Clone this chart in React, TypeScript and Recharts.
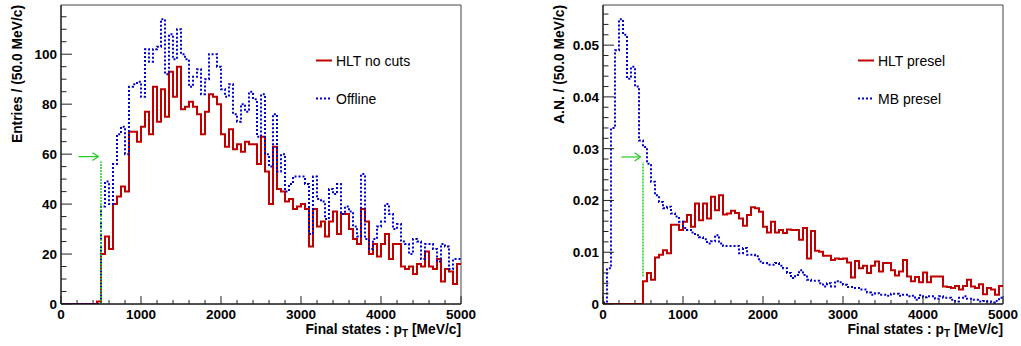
import React from "react";
import { LineChart, Line, XAxis, YAxis, ReferenceLine, ReferenceArea } from "recharts";

// bin lower edges: 100 bins of 50 MeV/c from 0 to 5000
const BIN_WIDTH = 50;

// left pad: raw entries
const hltNoCuts = [
  0, 0, 0, 0, 0, 0, 0, 0, 0, 1,
  20, 27, 22, 40, 43, 47, 45, 69, 69, 65,
  71, 77, 68, 87, 73, 86, 75, 93, 83, 95,
  78, 79, 81, 79, 76, 68, 77, 84, 83, 80,
  68, 63, 70, 62, 64, 61, 65, 64, 64, 56,
  67, 53, 40, 63, 46, 45, 41, 42, 38, 39,
  40, 38, 23, 38, 31, 33, 27, 33, 37, 28,
  36, 36, 30, 26, 24, 38, 33, 20, 24, 19,
  24, 28, 18, 24, 24, 15, 14, 15, 12, 16,
  15, 21, 15, 14, 18, 9, 14, 13, 8, 16,
];

const offline = [
  0, 0, 0, 0, 0, 0, 0, 0, 0, 0,
  39, 49, 40, 56, 68, 71, 60, 87, 88, 89,
  83, 102, 97, 102, 103, 114, 92, 108, 98, 110,
  100, 98, 87, 91, 94, 84, 90, 100, 100, 95,
  86, 83, 88, 76, 73, 80, 77, 85, 82, 67,
  84, 60, 55, 76, 53, 60, 45, 48, 51, 51,
  51, 48, 28, 51, 42, 41, 34, 46, 44, 48,
  36, 39, 37, 31, 27, 52, 26, 22, 26, 31,
  33, 40, 36, 30, 32, 25, 24, 20, 26, 25,
  18, 24, 24, 22, 17, 24, 23, 14, 18, 18,
];

// right pad: area normalised
const hltPresel = [
  0, 0, 0, 0, 0, 0, 0, 0, 0, 0,
  0.0044, 0.006, 0.0047, 0.009, 0.0095, 0.0104, 0.0098, 0.0153, 0.0153, 0.0143,
  0.0159, 0.0172, 0.0149, 0.0194, 0.0162, 0.0194, 0.0165, 0.0207, 0.0181, 0.021,
  0.0173, 0.0175, 0.018, 0.0176, 0.0165, 0.0151, 0.0172, 0.0187, 0.0185, 0.0178,
  0.0149, 0.0138, 0.0159, 0.0138, 0.0143, 0.0137, 0.0144, 0.0143, 0.0143, 0.0124,
  0.0147, 0.0088, 0.0141, 0.0103, 0.0101, 0.0093, 0.0093, 0.0085, 0.0088, 0.0087,
  0.0088, 0.008, 0.0051, 0.0083, 0.0069, 0.0074, 0.006, 0.0074, 0.0082, 0.0063,
  0.0079, 0.0079, 0.0065, 0.0055, 0.0063, 0.0085, 0.0053, 0.0044, 0.0052, 0.0042,
  0.0061, 0.0042, 0.0053, 0.0053, 0.0053, 0.0034, 0.0033, 0.0031, 0.0035, 0.0028,
  0.0035, 0.0047, 0.0034, 0.0031, 0.0038, 0.0019, 0.0031, 0.0028, 0.0018, 0.0035,
];

const mbPresel = [
  0.0003, 0.0069, 0.034, 0.049, 0.055, 0.052, 0.0435, 0.0458, 0.042, 0.0316,
  0.0303, 0.0271, 0.0236, 0.021, 0.0197, 0.0185, 0.0188, 0.0175, 0.0169, 0.0159,
  0.0147, 0.0143, 0.0138, 0.0133, 0.0129, 0.0125, 0.0117, 0.0121, 0.0133, 0.0117,
  0.0112, 0.0112, 0.0112, 0.0112, 0.0098, 0.0108, 0.0095, 0.0095, 0.0092, 0.0082,
  0.0079, 0.0076, 0.0076, 0.0079, 0.0074, 0.0069, 0.006, 0.005, 0.0056, 0.0065,
  0.0056, 0.0047, 0.0045, 0.0045, 0.004, 0.0034, 0.004, 0.0034, 0.0044, 0.0042,
  0.0037, 0.0033, 0.0033, 0.0031, 0.0028, 0.0028, 0.0022, 0.0018, 0.0021, 0.0018,
  0.0018, 0.0016, 0.002, 0.002, 0.0016, 0.0018, 0.0015, 0.0016, 0.0008, 0.0017,
  0.0013, 0.0015, 0.0015, 0.001, 0.0015, 0.0012, 0.0012, 0.0008, 0.0005, 0.0012,
  0.0015, 0.001, 0.0008, 0.0008, 0.0005, 0.0006, 0.0005, 0.0003, 0.0006, 0.0012,
];

const xTicks = Array.from({ length: 26 }, (_, i) => i * 200);
const leftYTicks = Array.from({ length: 24 }, (_, i) => i * 5);
const rightYTicks = Array.from({ length: 29 }, (_, i) => +(i * 0.002).toFixed(3));

// cut marker: threshold position, line top, arrow height and span
const CUT_PT = 500;
const leftCut = { top: 57, arrowY: 59, from: 220, to: 468 };
const rightCut = { bottom: 0.0053, top: 0.0274, arrowY: 0.0284, from: 230, to: 470 };

// step histogram rows: one point per lower edge, plus the closing edge
function toRows(a: number[], b: number[]) {
  const rows = a.map((v, i) => ({ x: i * BIN_WIDTH, a: v, b: b[i] }));
  rows.push({ x: a.length * BIN_WIDTH, a: a[a.length - 1], b: b[b.length - 1] });
  return rows;
}

const leftRows = toRows(hltNoCuts, offline);
const rightRows = toRows(hltPresel, mbPresel);

const FONT = "'Liberation Sans', Arial, Helvetica, sans-serif";
const RED = "#c00000";
const BLUE = "#0000cc";
const GREEN = "#22cc22";

function XTick(props: any) {
  const { x, y, payload } = props;
  const major = payload.value % 1000 === 0;
  return (
    <g>
      <line x1={x} x2={x} y1={y} y2={y - (major ? 8 : 4)} stroke="#222" />
      {major && (
        <text x={x} y={y + 14.5} textAnchor="middle" fontFamily={FONT} fontWeight="bold" fontSize={13.5} fill="#000">
          {payload.value}
        </text>
      )}
    </g>
  );
}

// minor step and number of minor divisions per labelled tick
function makeYTick(step: number, per: number, fmt: (v: number) => string) {
  return function YTick(props: any) {
    const { x, y, payload } = props;
    const major = Math.round(payload.value / step) % per === 0;
    return (
      <g>
        <line x1={x} x2={x + (major ? 11 : 5.5)} y1={y} y2={y} stroke="#222" />
        {major && (
          <text x={x - 4} y={y + 5} textAnchor="end" fontFamily={FONT} fontWeight="bold" fontSize={13.5} fill="#000">
            {fmt(payload.value)}
          </text>
        )}
      </g>
    );
  };
}

const LeftYTick = makeYTick(5, 4, (v) => String(v));
const RightYTick = makeYTick(0.002, 5, (v) => (v === 0 ? "0" : v.toFixed(2)));

function arrowSegments(cut: { arrowY: number; from: number; to: number }, head: number, half: number) {
  return [
    [{ x: cut.from, y: cut.arrowY }, { x: cut.to, y: cut.arrowY }],
    [{ x: cut.to - head, y: cut.arrowY + half }, { x: cut.to, y: cut.arrowY }],
    [{ x: cut.to - head, y: cut.arrowY - half }, { x: cut.to, y: cut.arrowY }],
  ];
}

interface PadProps {
  rows: { x: number; a: number; b: number }[];
  yMax: number;
  yTicks: number[];
  yTick: (p: any) => React.ReactElement;
  yAxisWidth: number;
  width: number;
  cutLine: { bottom: number; top: number };
  arrows: { x: number; y: number }[][];
}

function Pad({ rows, yMax, yTicks, yTick, yAxisWidth, width, cutLine, arrows }: PadProps) {
  return (
    <LineChart
      width={width}
      height={346}
      data={rows}
      margin={{ top: 5, right: width - yAxisWidth - 400, bottom: 0, left: 0 }}
    >
      <ReferenceArea x1={0} x2={5000} y1={0} y2={yMax} fill="none" stroke="#444" strokeWidth={1} />
      <XAxis
        dataKey="x"
        type="number"
        domain={[0, 5000]}
        ticks={xTicks}
        interval={0}
        height={42}
        tickSize={0}
        tickMargin={0}
        tickLine={false}
        tick={XTick}
        axisLine={{ stroke: "#000" }}
        allowDataOverflow
      />
      <YAxis
        type="number"
        domain={[0, yMax]}
        ticks={yTicks}
        interval={0}
        width={yAxisWidth}
        tickSize={0}
        tickMargin={0}
        tickLine={false}
        tick={yTick}
        axisLine={{ stroke: "#000" }}
        allowDataOverflow
      />
      <Line type="stepAfter" dataKey="a" stroke={RED} strokeWidth={2} dot={false} isAnimationActive={false} />
      <Line
        type="stepAfter"
        dataKey="b"
        stroke={BLUE}
        strokeWidth={2}
        strokeDasharray="2 2"
        dot={false}
        isAnimationActive={false}
      />
      <ReferenceLine
        segment={[{ x: CUT_PT, y: cutLine.bottom }, { x: CUT_PT, y: cutLine.top }]}
        stroke={GREEN}
        strokeWidth={1.5}
        strokeDasharray="2 1"
      />
      {arrows.map((seg, i) => (
        <ReferenceLine key={i} segment={seg} stroke={GREEN} strokeWidth={1.2} />
      ))}
    </LineChart>
  );
}

function Overlay({
  width,
  yTitle,
  yTitleX,
  plotRight,
  legendX,
  labels,
}: {
  width: number;
  yTitle: string;
  yTitleX: number;
  plotRight: number;
  legendX: number;
  labels: string[];
}) {
  return (
    <svg width={width} height={346} style={{ position: "absolute", left: 0, top: 0, pointerEvents: "none" }}>
      <text
        transform={`translate(${yTitleX},5) rotate(-90)`}
        textAnchor="end"
        fontFamily={FONT}
        fontWeight="bold"
        fontSize={13.8}
        fill="#000"
      >
        {yTitle}
      </text>
      <text x={plotRight} y={333.5} textAnchor="end" fontFamily={FONT} fontWeight="bold" fontSize={13.8} fill="#000">
        Final states : p
        <tspan fontSize={10} dy={3}>
          T
        </tspan>
        <tspan dy={-3}> [MeV/c]</tspan>
      </text>
      <line x1={legendX} x2={legendX + 16} y1={60.5} y2={60.5} stroke={RED} strokeWidth={2} />
      <text x={legendX + 20} y={65.5} fontFamily={FONT} fontSize={14} fill="#000">
        {labels[0]}
      </text>
      <line x1={legendX} x2={legendX + 16} y1={98.5} y2={98.5} stroke={BLUE} strokeWidth={2} strokeDasharray="2 2" />
      <text x={legendX + 20} y={103.5} fontFamily={FONT} fontSize={14} fill="#000">
        {labels[1]}
      </text>
    </svg>
  );
}

export default function App() {
  return (
    <div
      style={{
        position: "fixed",
        left: 0,
        top: 0,
        width: 1021,
        height: 346,
        background: "#fff",
        overflow: "hidden",
      }}
    >
      <div style={{ position: "absolute", left: 0, top: 0, width: 500, height: 346 }}>
        <Pad
          rows={leftRows}
          yMax={119.7}
          yTicks={leftYTicks}
          yTick={LeftYTick}
          yAxisWidth={61}
          width={500}
          cutLine={{ bottom: 0, top: leftCut.top }}
          arrows={arrowSegments(leftCut, 75, 1.6)}
        />
        <Overlay
          width={500}
          yTitle="Entries / (50.0 MeV/c)"
          yTitleX={22}
          plotRight={461}
          legendX={316}
          labels={["HLT no cuts", "Offline"]}
        />
      </div>
      <div style={{ position: "absolute", left: 520, top: 0, width: 501, height: 346 }}>
        <Pad
          rows={rightRows}
          yMax={0.05775}
          yTicks={rightYTicks}
          yTick={RightYTick}
          yAxisWidth={83}
          width={501}
          cutLine={{ bottom: rightCut.bottom, top: rightCut.top }}
          arrows={arrowSegments(rightCut, 75, 0.0008)}
        />
        <Overlay
          width={501}
          yTitle="A.N. / (50.0 MeV/c)"
          yTitleX={44}
          plotRight={483}
          legendX={338}
          labels={["HLT presel", "MB presel"]}
        />
      </div>
    </div>
  );
}
